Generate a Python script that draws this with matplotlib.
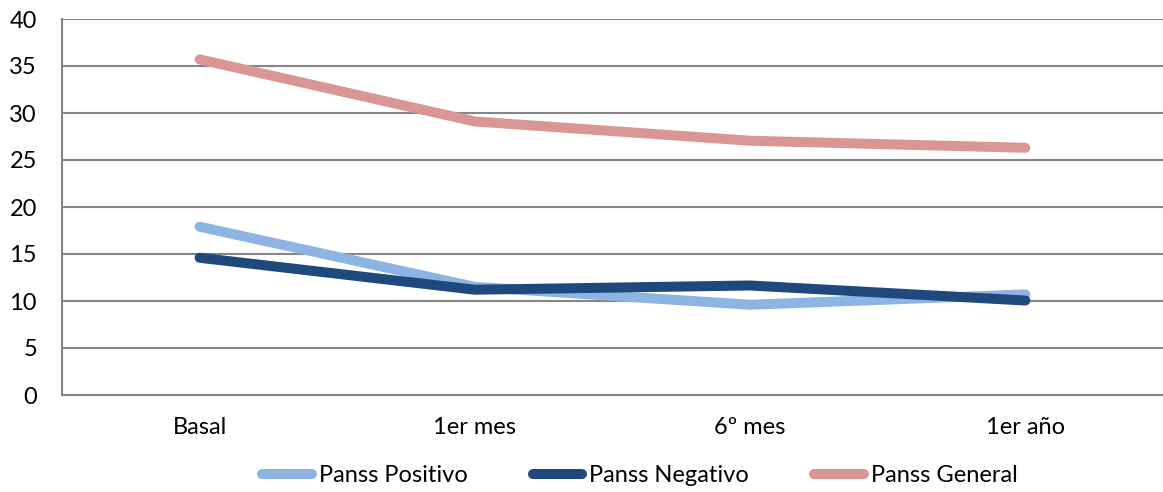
import matplotlib
matplotlib.use("Agg")
import matplotlib.pyplot as plt

# ---------- Data ----------
momentos = ["Basal", "1er mes", "6º mes", "1er año"]
panss_positivo = [17.9, 11.5, 9.6, 10.7]
panss_negativo = [14.6, 11.2, 11.65, 10.05]
panss_general = [35.7, 29.1, 27.05, 26.3]

series = [
    ("Panss Positivo", panss_positivo, "#8EB4E3"),
    ("Panss Negativo", panss_negativo, "#1F497D"),
    ("Panss General", panss_general, "#D99694"),
]

plt.rcParams['font.family'] = ['Lato', 'DejaVu Sans']

fig = plt.figure(figsize=(11.63, 4.92), dpi=100)
ax = fig.add_axes([62 / 1163, 97 / 492, 1101 / 1163, 376 / 492])

x = list(range(len(momentos)))
for name, vals, color in series:
    ax.plot(x, vals, color=color, lw=7.2, solid_capstyle='round',
            solid_joinstyle='round', label=name, zorder=3)

ax.set_xlim(-0.5, len(momentos) - 0.5)
ax.set_ylim(0, 40)
ax.set_yticks(range(0, 41, 5))
ax.set_xticks(x)
ax.set_xticklabels(momentos)

ax.grid(axis='y', color='#868686', lw=1.5)
ax.set_axisbelow(True)
for side in ('top', 'right'):
    ax.spines[side].set_visible(False)
for side in ('left', 'bottom'):
    ax.spines[side].set_color('#868686')
    ax.spines[side].set_linewidth(1.5)

ax.tick_params(axis='both', length=0, labelsize=17, colors='black')
ax.tick_params(axis='y', pad=18)
ax.tick_params(axis='x', pad=16)

fig.legend(loc='center', bbox_to_anchor=(640 / 1163, 1 - 476 / 492), ncol=3,
           frameon=False, fontsize=17, handlelength=2.1, handletextpad=0.3,
           columnspacing=2.75, borderpad=0)

fig.savefig("out.png", dpi=100)
